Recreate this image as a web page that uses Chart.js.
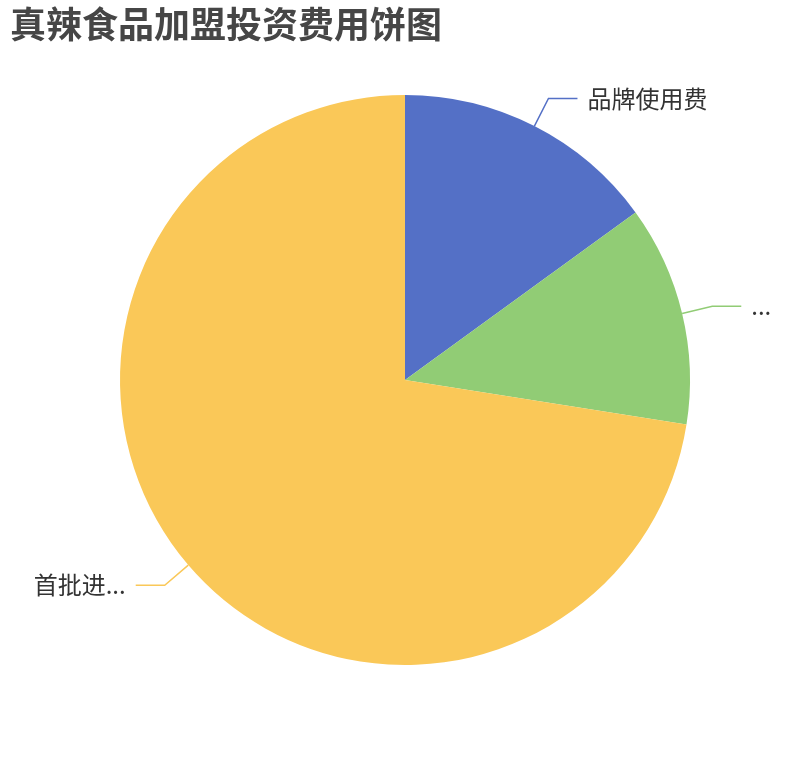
<!DOCTYPE html>
<html>
<head>
<meta charset="utf-8">
<script src="https://cdn.jsdelivr.net/npm/chart.js@4.4.0/dist/chart.umd.min.js"></script>
<style>
  html, body { margin: 0; padding: 0; background: #fff; }
  #wrap { width: 810px; height: 760px; position: relative; }
</style>
</head>
<body>
<div id="wrap"><canvas id="pieChart"></canvas></div>
<script>
const chartTitle = '真辣食品加盟投资费用饼图';
const categories = ['品牌使用费', '加盟管理费用', '首批进货费用'];
// labels as they appear (long ones are cut off in the picture)
const shownLabels = ['品牌使用费', '...', '首批进...'];
const amounts = [3, 2.5, 14.5];
const colors = ['#5470c6', '#91cc75', '#fac858'];

const fontFamily = '"Noto Sans CJK SC", "Noto Sans", sans-serif';

const titleAndLabels = {
  id: 'titleAndLabels',
  afterDatasetsDraw(chart) {
    const ctx = chart.ctx;
    ctx.save();

    // title, top left
    ctx.fillStyle = '#464646';
    ctx.font = 'bold 36px ' + fontFamily;
    ctx.textAlign = 'left';
    ctx.textBaseline = 'top';
    ctx.fillText(chartTitle, 10, 6);

    // outside labels with leader lines
    const arcs = chart.getDatasetMeta(0).data;
    ctx.font = '24px ' + fontFamily;
    ctx.textBaseline = 'middle';
    arcs.forEach((arc, i) => {
      const p = arc.getProps(['x', 'y', 'startAngle', 'endAngle', 'outerRadius'], true);
      const mid = (p.startAngle + p.endAngle) / 2;
      const cos = Math.cos(mid), sin = Math.sin(mid);
      const x0 = p.x + cos * p.outerRadius, y0 = p.y + sin * p.outerRadius;
      const x1 = p.x + cos * (p.outerRadius + 31), y1 = p.y + sin * (p.outerRadius + 31);
      const dir = cos >= 0 ? 1 : -1;
      const x2 = x1 + dir * 29;

      ctx.strokeStyle = colors[i];
      ctx.lineWidth = 1.5;
      ctx.beginPath();
      ctx.moveTo(x0, y0);
      ctx.lineTo(x1, y1);
      ctx.lineTo(x2, y1);
      ctx.stroke();

      ctx.fillStyle = '#333';
      ctx.textAlign = dir > 0 ? 'left' : 'right';
      ctx.fillText(shownLabels[i], x2 + dir * 10, y1);
    });
    ctx.restore();
  }
};

new Chart(document.getElementById('pieChart'), {
  type: 'pie',
  data: {
    labels: categories,
    datasets: [{
      data: amounts,
      backgroundColor: colors,
      borderWidth: 0
    }]
  },
  options: {
    responsive: true,
    maintainAspectRatio: false,
    animation: false,
    layout: { padding: { top: 95, bottom: 95, left: 120, right: 120 } },
    plugins: {
      legend: { display: false },
      title: { display: false },
      tooltip: { enabled: false }
    }
  },
  plugins: [titleAndLabels]
});
</script>
</body>
</html>
